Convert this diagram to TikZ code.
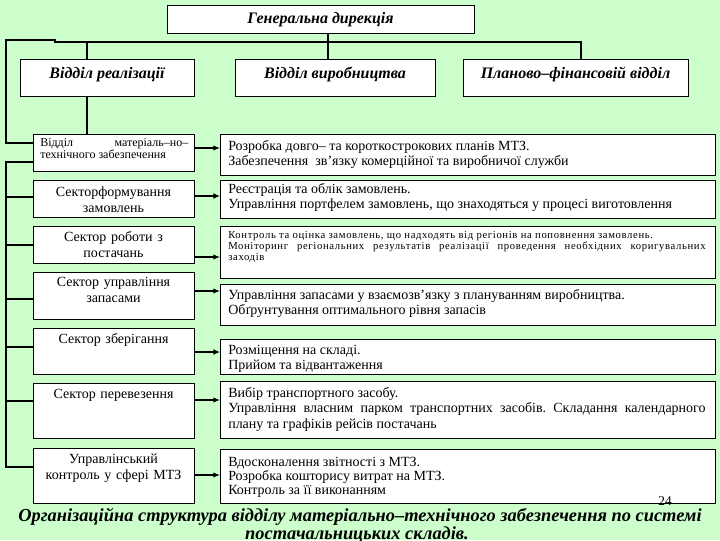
\documentclass[tikz,border=0pt]{standalone}
\usepackage{fontspec}
\setmainfont{Liberation Serif}
\newfontfamily\spacedserif[LetterSpace=6]{Liberation Serif}
\usetikzlibrary{arrows.meta}
\definecolor{bg}{RGB}{204,255,204}
\newcommand\fs[2]{\fontsize{#1}{#2}\selectfont}
\newcommand\mkbox[5]{\node[boxst, minimum width=#4*0.75pt, minimum height=#5*0.75pt] (#1) at (#2,#3) {};}
\frenchspacing
\begin{document}
\begin{tikzpicture}[x=0.75pt,y=-0.75pt,
  boxst/.style={draw=black, line width=0.8pt, fill=white, inner sep=0pt, anchor=north west},
  ln/.style={line width=0.8pt},
  arr/.style={line width=0.8pt, -{Latex[length=5pt,width=4pt]}},
  arrb/.style={line width=1.6pt, -{Latex[length=5pt,width=4.5pt]}},
  ttl/.style={anchor=base, inner sep=0pt, font=\fs{12}{14}\bfseries\itshape},
  ltxt/.style={anchor=base, inner sep=0pt, text width=115pt, align=center, font=\fs{10.5}{12}},
  rtxt/.style={anchor=base west, inner sep=0pt, text width=358pt, align=justify, font=\fs{10.5}{11.5}}]
\useasboundingbox (0,0) rectangle (720,540);
\fill[bg] (0,0) rectangle (720,540);

% boxes
\mkbox{gen}{167}{5}{307}{28}
\mkbox{real}{20}{59}{174}{37}
\mkbox{vyr}{235}{59}{200}{37}
\mkbox{plan}{463}{59}{225}{37}
\mkbox{L1}{33}{134}{161}{37}
\mkbox{L2}{33}{180}{161}{37}
\mkbox{L3}{33}{226}{161}{37}
\mkbox{L4}{33}{272}{161}{47}
\mkbox{L5}{33}{328}{161}{46}
\mkbox{L6}{33}{383}{161}{55}
\mkbox{L7}{33}{448}{161}{55}
\mkbox{R1}{220}{134}{495}{41}
\mkbox{R2}{220}{180}{495}{38}
\mkbox{R3}{220}{226}{495}{52}
\mkbox{R4}{220}{284}{495}{41}
\mkbox{R5}{220}{339}{495}{35}
\mkbox{R6}{220}{381}{495}{57}
\mkbox{R7}{220}{449}{495}{54}

% connectors at top
\draw[ln] (gen.south -| 328,0) -- (328,42);
\draw[ln] (L1.west |- 0,143) -- (6,143) -- (6,40) -- (55,40) -- (55,42) -- (581,42) -- (plan.north -| 581,0);
\draw[ln] (87,42) -- (real.north -| 87,0);
\draw[ln] (328,42) -- (vyr.north -| 328,0);
\draw[ln] (real.south -| 87,0) -- (L1.north -| 87,0);

% left bus
\draw[ln] (L1.west |- 0,162) -- (6,162) -- (6,467) -- (L7.west |- 0,467);
\draw[ln] (6,197) -- (L2.west |- 0,197);
\draw[ln] (6,245) -- (L3.west |- 0,245);
\draw[ln] (6,299) -- (L4.west |- 0,299);
\draw[ln] (6,347) -- (L5.west |- 0,347);
\draw[ln] (6,401) -- (L6.west |- 0,401);

% arrows
\draw[arr] (L1.east |- 0,148) -- (R1.west |- 0,148);
\draw[arrb] (L2.east |- 0,196) -- (R2.west |- 0,196);
\draw[arr] (L3.east |- 0,257) -- (R3.west |- 0,257);
\draw[arr] (L4.east |- 0,291) -- (R4.west |- 0,291);
\draw[arrb] (L5.east |- 0,352) -- (R5.west |- 0,352);
\draw[arr] (L6.east |- 0,400) -- (R6.west |- 0,400);
\draw[arr] (L7.east |- 0,475) -- (R7.west |- 0,475);

% titles
\node[ttl] (gent) at (320.5,23) {Генеральна дирекція};
\node[ttl] (realt) at (107,78) {Відділ реалізації};
\node[ttl] (vyrt) at (335,78) {Відділ виробництва};
\node[ttl] (plant) at (575.5,78) {Планово–фінансовій відділ};

% left texts
\node[anchor=base west, inner sep=0pt, text width=111pt, align=justify, font=\fs{9}{9}] (L1t) at (40,146) {Відділ матеріаль–но–\linebreak технічного забезпечення};
\node[ltxt] (L2t) at (113.5,196.5) {Секторформування\\замовлень};
\node[ltxt] (L3t) at (113.5,241.5) {Сектор роботи з\\постачань};
\node[ltxt] (L4t) at (113.5,286.5) {Сектор управління\\запасами};
\node[ltxt] (L5t) at (113.5,343.5) {Сектор зберігання};
\node[ltxt] (L6t) at (113.5,398.5) {Сектор перевезення};
\node[ltxt] (L7t) at (113.5,463.5) {Управлінський\\контроль у сфері МТЗ};

% right texts
\node[rtxt] (R1t) at (228,150.5) {Розробка довго– та короткострокових планів МТЗ.\\Забезпечення\ \ зв'язку комерційної та виробничої служби};
\node[rtxt] (R2t) at (228,193.5) {Реєстрація та облік замовлень.\\Управління портфелем замовлень, що знаходяться у процесі виготовлення};
\node[rtxt, font=\spacedserif\fs{8}{8.25}] (R3t) at (228,238) {Контроль та оцінка замовлень, що надходять від регіонів на поповнення замовлень.\\Моніторинг регіональних результатів реалізації проведення необхідних коригувальних\linebreak заходів};
\node[rtxt] (R4t) at (228,299.5) {Управління запасами у взаємозв'язку з плануванням виробництва.\\Обґрунтування оптимального рівня запасів};
\node[rtxt] (R5t) at (228,354.5) {Розміщення на складі.\\Прийом та відвантаження};
\node[rtxt] (R6t) at (228,397.5) {Вибір транспортного засобу.\\Управління власним парком транспортних засобів. Складання календарного\linebreak плану та графіків рейсів постачань};
\node[rtxt, font=\fs{10.5}{10.5}] (R7t) at (228,466.5) {Вдосконалення звітності з МТЗ.\\Розробка кошторису витрат на МТЗ.\\Контроль за її виконанням};

% page number and caption
\node[anchor=base, inner sep=0pt, font=\fs{10}{12}] (pg) at (665,505) {24};
\node[anchor=base, inner sep=0pt, font=\fs{13.8}{16}\bfseries\itshape] (cap1) at (360,521) {Організаційна структура відділу матеріально–технічного забезпечення по системі};
\node[anchor=base, inner sep=0pt, font=\fs{13.8}{16}\bfseries\itshape] (cap2) at (357,539) {постачальницьких складів.};
\end{tikzpicture}
\end{document}
